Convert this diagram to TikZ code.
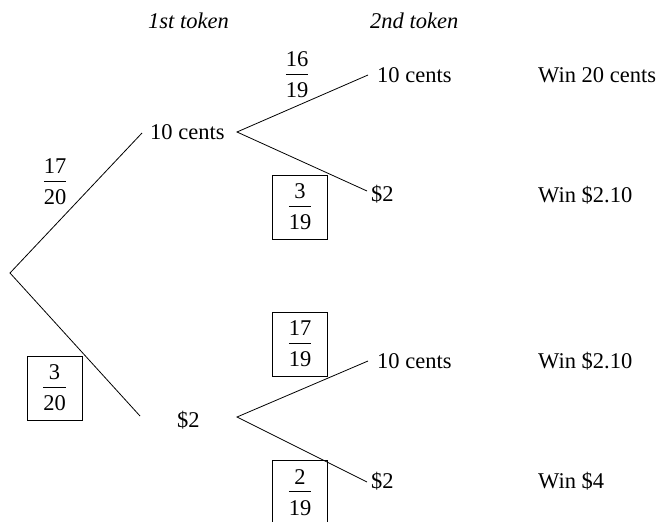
\documentclass[tikz,border=0pt]{standalone}
\usepackage{fontspec}
\setmainfont{Liberation Serif}
\newcommand{\fr}[2]{\vbox{\offinterlineskip\halign{\hfil##\hfil\cr #1\cr\noalign{\kern7pt\hrule height .8pt\kern8pt}#2\cr}}}
\begin{document}
\begin{tikzpicture}[x=1pt,y=-1pt,
  every node/.style={font=\fontsize{22.5}{27}\selectfont, inner sep=0pt},
  lbl/.style={anchor=base west},
  hdr/.style={anchor=base west, font=\fontsize{22.5}{27}\selectfont\itshape},
  frac/.style={anchor=center},
  bfrac/.style={anchor=center, draw, line width=0.8pt, minimum width=55pt, minimum height=64pt},
  branch/.style={line width=0.8pt}]
\useasboundingbox (0,0) rectangle (664,522);
% headers
\node[hdr] (h1) at (148,28) {1st token};
\node[hdr] (h2) at (370,28) {2nd token};
% tree points
\coordinate (r) at (10,273);
\coordinate (e1) at (142,133);
\coordinate (e2) at (140,416);
\coordinate (p1) at (237,132);
\coordinate (p2) at (237,417);
\coordinate (q1) at (368,75);
\coordinate (q2) at (367,191);
\coordinate (q3) at (368,361);
\coordinate (q4) at (367,482);
% labels
\node[lbl] (a1) at (150,139) {10 cents};
\node[lbl] (b1) at (177,427) {\$2};
\node[lbl] (a2) at (377,82) {10 cents};
\node[lbl] (b2) at (371,201) {\$2};
\node[lbl] (a3) at (377,368) {10 cents};
\node[lbl] (b3) at (371,488) {\$2};
\node[lbl] (w1) at (538,82) {Win 20 cents};
\node[lbl] (w2) at (538,202) {Win \$2.10};
\node[lbl] (w3) at (538,368) {Win \$2.10};
\node[lbl] (w4) at (538,488) {Win \$4};
% fractions
\node[frac] (f1) at (55,182) {\fr{17}{20}};
\node[bfrac] (f2) at (54.5,388) {\fr{3}{20}};
\node[frac] (f3) at (297,75) {\fr{16}{19}};
\node[bfrac] (f4) at (300,207) {\fr{3}{19}};
\node[bfrac] (f5) at (300,344) {\fr{17}{19}};
\node[bfrac] (f6) at (300,492.5) {\fr{2}{19}};
% branches
\draw[branch] (e1) -- (r) -- (e2);
\draw[branch] (q1) -- (p1) -- (q2);
\draw[branch] (q3) -- (p2) -- (q4);
\end{tikzpicture}
\end{document}
